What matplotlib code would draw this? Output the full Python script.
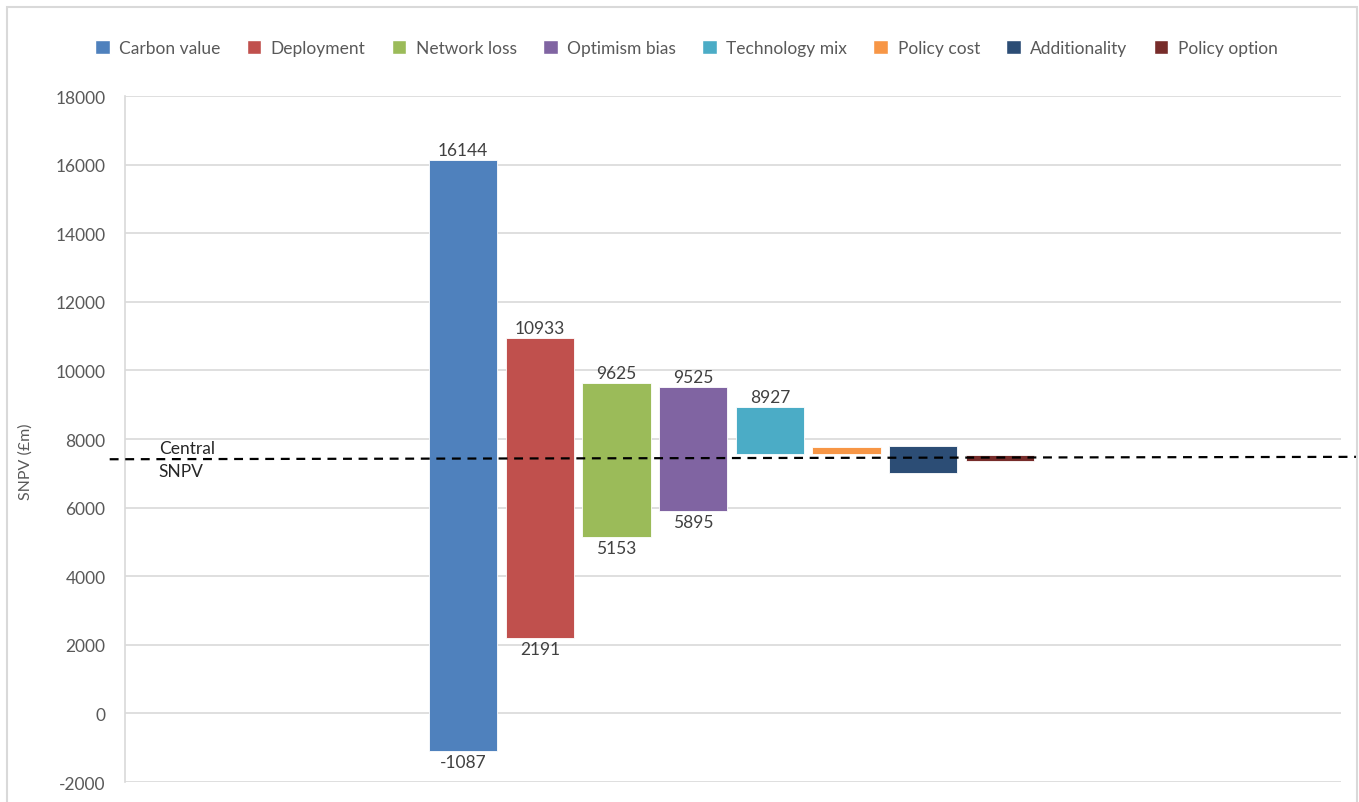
import matplotlib.pyplot as plt
from matplotlib.patches import Patch, Rectangle

# sensitivity ranges of SNPV (£m) for each factor
factors = ["Carbon value", "Deployment", "Network loss", "Optimism bias",
           "Technology mix", "Policy cost", "Additionality", "Policy option"]
low_values = [-1087, 2191, 5153, 5895, 7560, 7560, 7000, 7365]
high_values = [16144, 10933, 9625, 9525, 8927, 7775, 7805, 7530]
# labelled ends (only the larger ranges carry labels)
top_labels = ["16144", "10933", "9625", "9525", "8927", "", "", ""]
bottom_labels = ["-1087", "2191", "5153", "5895", "", "", "", ""]
central_snpv = [7410, 7480]  # dashed reference line, left and right ends

colors = ["#4F81BD", "#C0504D", "#9BBB59", "#8064A2",
          "#4BACC6", "#F79646", "#2C4D75", "#772C2A"]

plt.rcParams['font.family'] = ['Lato', 'DejaVu Sans']
plt.rcParams['axes.unicode_minus'] = False
text_col = "#595959"

fig = plt.figure(figsize=(13.59, 8.03), dpi=100)
ax = fig.add_axes([0.092, 0.0249, 0.8948, 0.8543])

xs = list(range(len(factors)))
heights = [h - l for l, h in zip(low_values, high_values)]
ax.bar(xs, heights, bottom=low_values, width=0.89, color=colors,
       edgecolor="white", linewidth=0.6, zorder=3)

for x, lo, hi, tl, bl in zip(xs, low_values, high_values, top_labels, bottom_labels):
    if tl:
        ax.text(x, hi + 60, tl, ha="center", va="bottom", fontsize=12.5, color="#404040")
    if bl:
        ax.text(x, lo - 90, bl, ha="center", va="top", fontsize=12.5, color="#404040")

ax.set_xlim(-4.41, 11.45)
ax.set_ylim(-2000, 18000)
ax.set_yticks(range(-2000, 18001, 2000))
ax.set_xticks([])
ax.grid(axis="y", color="#D9D9D9", linewidth=1.2, zorder=0)
ax.tick_params(axis="y", length=0, pad=14, labelsize=12.5, labelcolor=text_col)
for side in ["top", "right", "bottom"]:
    ax.spines[side].set_visible(False)
ax.spines["left"].set_color("#D9D9D9")
ax.spines["left"].set_linewidth(1.2)
ax.set_ylabel("SNPV (£m)", fontsize=11.5, color=text_col)
ax.yaxis.set_label_coords(-0.076, 0.468)

# central SNPV line runs across the whole chart, beyond the plot area
x0, x1 = ax.get_xlim()
ax.plot([x0 - 0.2, x1 + 0.22], central_snpv, ls=(0, (4, 3)), color="black",
        lw=1.6, zorder=4, clip_on=False)
ax.text(-3.97, 7730, "Central", fontsize=12.5, color="#262626", va="center")
ax.text(-3.97, 7060, "SNPV", fontsize=12.5, color="#262626", va="center")

handles = [Patch(facecolor=c, edgecolor="white", label=f) for c, f in zip(colors, factors)]
fig.legend(handles=handles, loc="center", bbox_to_anchor=(0.505, 0.939), ncol=8,
           frameon=False, fontsize=12.5, handlelength=0.85, handleheight=0.85,
           handletextpad=0.55, columnspacing=1.5, labelcolor=text_col)

# light chart border
fig.patches.append(Rectangle((7 / 1359, -0.05), 1350 / 1359, 1.04, transform=fig.transFigure,
                             fill=False, edgecolor="#D9D9D9", linewidth=1.5))

fig.savefig("out.png", dpi=100)
